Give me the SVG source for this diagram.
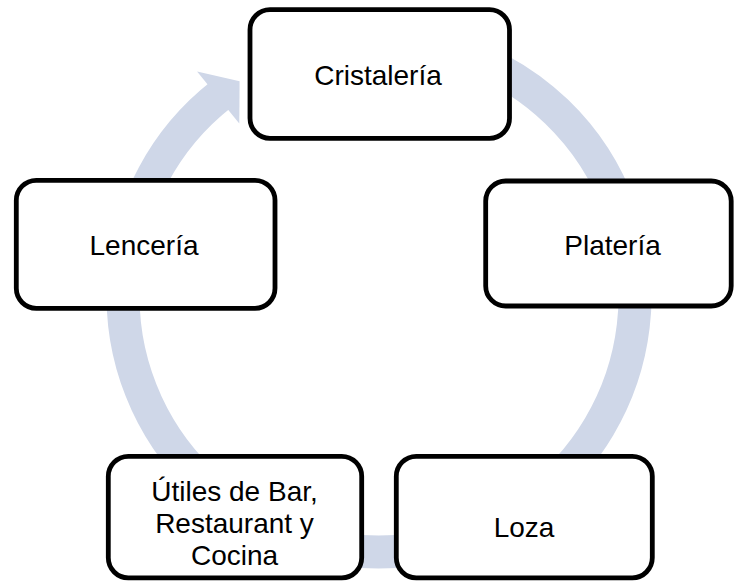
<svg xmlns="http://www.w3.org/2000/svg" width="734" height="584" viewBox="0 0 734 584">
<style>
.node rect{fill:#ffffff;stroke:#000000;stroke-width:4.8}
.node text{font-family:"Liberation Sans",Arial,sans-serif;font-size:28px;fill:#000000;text-anchor:middle}
.ring{fill:none;stroke:#CFD7E8;stroke-width:33}
.head{fill:#CFD7E8}
</style>
<rect width="734" height="584" fill="#ffffff"/>
<g id="connectors">
<path class="ring" d="M 466.56 55.44 A 256 256 0 1 1 221.4 94.3"/>
<polygon class="head" points="197.1,71.4 239.6,81.3 239.3,123.5"/>
</g>
<g id="node-cristaleria" class="node">
<rect x="250" y="9.7" width="259.5" height="128.6" rx="20" ry="20"/>
<text x="378" y="85">Cristalería</text>
</g>
<g id="node-plateria" class="node">
<rect x="485.7" y="181" width="245.5" height="125" rx="20" ry="20"/>
<text x="612.5" y="255">Platería</text>
</g>
<g id="node-loza" class="node">
<rect x="396.3" y="456.3" width="256" height="121.5" rx="20" ry="20"/>
<text x="524" y="537">Loza</text>
</g>
<g id="node-utiles" class="node">
<rect x="108.3" y="456.3" width="253.4" height="121.5" rx="20" ry="20"/>
<text x="234.5" y="501">Útiles de Bar,</text>
<text x="234.5" y="533">Restaurant y</text>
<text x="234.5" y="565">Cocina</text>
</g>
<g id="node-lenceria" class="node">
<rect x="16.3" y="180.3" width="258.7" height="128" rx="20" ry="20"/>
<text x="144" y="255">Lencería</text>
</g>
</svg>
